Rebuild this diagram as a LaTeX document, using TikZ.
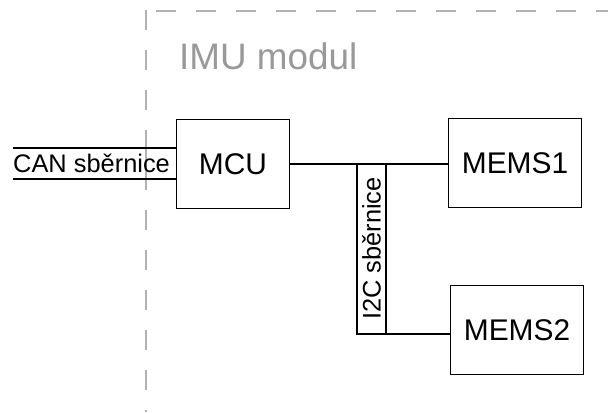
\documentclass[tikz,border=0pt]{standalone}
\usepackage{fontspec}
\setmainfont{Liberation Sans}
\begin{document}
\begin{tikzpicture}[x=1bp,y=-1bp,
  block/.style={draw,line width=1.8bp,inner sep=0pt,minimum width=113bp,minimum height=89bp,font=\fontsize{30}{36}\selectfont},
  wide/.style={block,minimum width=133bp},
  buslabel/.style={inner sep=0pt,font=\fontsize{25.5}{30}\selectfont},
  wire/.style={line width=1.6bp},
  frameline/.style={draw=black!30,line width=1.4bp},
  frame/.style={frameline,dash pattern=on 20bp off 20bp}]
\useasboundingbox (0,0) rectangle (608,412);
% module frame
\draw[frame,dash phase=30bp] (146,11) -- (608,11);
\draw[frame] (146,10) -- (146,412);
\draw[frameline] (146,150) -- (146,170);
\node[anchor=base west,inner sep=0pt,text=black!40,font=\fontsize{37}{44}\selectfont] (title) at (179,69) {IMU modul};
% blocks
\node[block] (mcu) at (233,164) {MCU};
\node[wide] (mems1) at (515,163) {MEMS1};
\node[wide] (mems2) at (517,330) {MEMS2};
% CAN bus
\node[buslabel,anchor=west,minimum height=31bp] (can) at (13,163.5) {CAN sběrnice};
\draw[wire] (can.north west) -- (can.north west -| mcu.west);
\draw[wire] (can.south west) -- (can.south west -| mcu.west);
% I2C bus
\draw[wire] (mcu.east) -- (mcu.east -| mems1.west);
\node[buslabel,rotate=90,minimum width=170bp,minimum height=29bp] (i2c) at (371.5,248.5) {I2C sběrnice};
\draw[wire] (i2c.north east) -- (i2c.north west) -- (i2c.north west -| mems2.west);
\draw[wire] (i2c.south east) -- (i2c.south west);
\end{tikzpicture}
\end{document}
